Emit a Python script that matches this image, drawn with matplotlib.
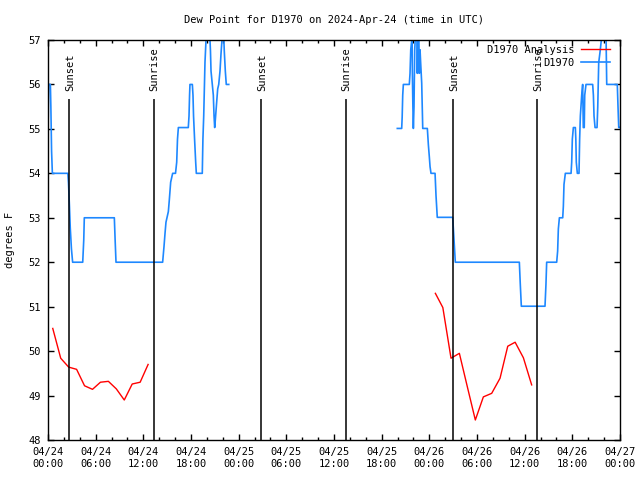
import numpy as np
import matplotlib
matplotlib.use("Agg")
import matplotlib.pyplot as plt
from matplotlib.ticker import MultipleLocator

plt.rcParams['font.family'] = ['DejaVu Sans Mono']

# ---- data (hours since 2024-04-24 00:00 UTC) ----
obs1_hours = [0.00, 0.03, 0.08, 0.30, 0.36, 0.45, 0.55, 2.50, 2.58, 2.70, 2.80, 2.95, 3.10,
              4.37, 4.50, 4.57, 8.35, 8.45, 8.56, 14.43, 14.60, 14.73, 14.85, 15.15, 15.27,
              15.44, 15.69, 16.05, 16.20, 16.30, 16.41, 17.66, 17.75, 17.82, 17.87, 18.17,
              18.25, 18.32, 18.45, 18.59, 18.67, 19.42, 19.50, 19.60, 19.76, 19.89, 20.15,
              20.39, 20.45, 20.52, 20.81, 20.90, 20.98, 21.04, 21.10, 21.23, 21.36, 21.49,
              21.65, 21.78, 21.90, 22.05, 22.19, 22.32, 22.44, 22.75]
obs1_dewpt = [55.03, 55.29, 56.00, 56.00, 55.50, 54.50, 54.00, 54.00, 53.78, 53.26, 52.78, 52.30, 52.00,
              52.00, 52.50, 53.00, 53.00, 52.50, 52.00, 52.00, 52.35, 52.65, 52.90, 53.14, 53.40,
              53.80, 54.00, 54.00, 54.25, 54.77, 55.03, 55.03, 55.29, 55.76, 56.00, 56.00,
              55.76, 55.29, 54.77, 54.25, 54.00, 54.00, 54.77, 55.29, 56.50, 57.00, 57.50,
              57.00, 56.75, 56.30, 55.76, 55.29, 55.03, 55.15, 55.29, 55.60, 55.90, 56.00,
              56.30, 56.70, 57.00, 57.40, 56.75, 56.30, 56.00, 56.00]

obs2_hours = [43.97, 44.52, 44.58, 44.65, 44.73, 45.48, 45.57, 45.66, 45.79, 45.83, 45.86, 45.93,
              45.99, 46.07, 46.16, 46.33, 46.42, 46.49, 46.58, 46.66, 46.74, 46.83, 46.91, 47.04,
              47.17, 47.75, 47.88, 48.00, 48.09, 48.21, 48.72, 48.84, 49.00, 50.94, 51.11, 51.27,
              59.33, 59.45, 59.58, 62.56, 62.68, 62.77, 64.03, 64.15, 64.24, 64.37, 64.79, 64.87,
              64.95, 65.12, 65.84, 65.92, 66.00, 66.13, 66.38, 66.44, 66.50, 66.63, 66.84, 66.92,
              67.01, 67.18, 67.30, 67.38, 67.50, 67.56, 67.72, 68.56, 68.65, 68.73, 68.86, 69.11,
              69.20, 69.32, 69.50, 69.65, 69.95, 70.25, 70.33, 71.66, 71.75, 71.84, 71.92]
obs2_dewpt = [55.01, 55.01, 55.26, 55.76, 56.00, 56.00, 56.25, 56.78, 57.00, 57.30, 56.30, 55.50,
              55.01, 55.50, 56.78, 57.40, 57.40, 56.25, 57.40, 57.40, 56.25, 56.78, 56.48, 56.03,
              55.01, 55.01, 54.64, 54.37, 54.15, 54.00, 54.00, 53.50, 53.01, 53.01, 52.50, 52.00,
              52.00, 51.50, 51.01, 51.01, 51.50, 52.00, 52.00, 52.25, 52.75, 53.00, 53.00, 53.26,
              53.75, 54.00, 54.00, 54.25, 54.77, 55.03, 55.03, 54.77, 54.25, 54.00, 54.00, 54.77,
              55.29, 55.76, 56.00, 55.03, 55.03, 55.76, 56.00, 56.00, 55.76, 55.29, 55.03, 55.03,
              55.50, 56.49, 56.75, 57.00, 57.40, 57.00, 56.00, 56.00, 55.50, 55.03, 55.03]

anl1_hours = [0.6, 1.6, 2.6, 3.6, 4.6, 5.6, 6.6, 7.6, 8.6, 9.6, 10.6, 11.6, 12.6]
anl1_dewpt = [50.51, 49.84, 49.64, 49.59, 49.22, 49.14, 49.30, 49.32, 49.15, 48.90, 49.26, 49.30, 49.70]

anl2_hours = [48.76, 49.70, 50.73, 51.78, 52.78, 53.79, 54.80, 55.85, 56.90, 57.87, 58.80, 59.84, 60.88]
anl2_dewpt = [51.30, 50.98, 49.84, 49.95, 49.20, 48.45, 48.97, 49.05, 49.39, 50.11, 50.20, 49.85, 49.24]

sun_hours = [2.64, 13.28, 26.87, 37.50, 50.98, 61.55]
sun_labels = ["Sunset", "Sunrise", "Sunset", "Sunrise", "Sunset", "Sunrise"]

xtick_hours = [0, 6, 12, 18, 24, 30, 36, 42, 48, 54, 60, 66, 72]
xtick_labels = ["04/24\n00:00", "04/24\n06:00", "04/24\n12:00", "04/24\n18:00",
                "04/25\n00:00", "04/25\n06:00", "04/25\n12:00", "04/25\n18:00",
                "04/26\n00:00", "04/26\n06:00", "04/26\n12:00", "04/26\n18:00",
                "04/27\n00:00"]

# ---- figure ----
fig = plt.figure(figsize=(6.4, 4.8), dpi=100)
ax = fig.add_axes([48/640, 40/480, 572/640, 400/480])

red = '#ff0000'
blue = '#1e88ff'
fs = 7.5

ax.plot(anl1_hours, anl1_dewpt, color=red, lw=1.0, label='D1970 Analysis')
ax.plot(anl2_hours, anl2_dewpt, color=red, lw=1.0)
ax.plot(obs1_hours, obs1_dewpt, color=blue, lw=1.2, label='D1970')
ax.plot(obs2_hours, obs2_dewpt, color=blue, lw=1.2)

ax.vlines(sun_hours, 48, 55.68, color='black', lw=1.1)
for h, lab in zip(sun_hours, sun_labels):
    ax.text(h + 0.1, 55.85, lab, rotation=90, ha='center', va='bottom', fontsize=fs)

ax.set_xlim(0, 72)
ax.set_ylim(48, 57)
ax.set_xticks(xtick_hours)
ax.set_xticklabels(xtick_labels, fontsize=fs)
ax.xaxis.set_minor_locator(MultipleLocator(2))
ax.yaxis.set_major_locator(MultipleLocator(1))
ax.tick_params(axis='both', which='major', direction='in', length=4, width=1,
               top=True, right=True, labelsize=fs, pad=5)
ax.tick_params(axis='both', which='minor', direction='in', length=2.2, width=1,
               top=True, right=True)
for s in ax.spines.values():
    s.set_linewidth(1.0)

ax.set_ylabel('degrees F', fontsize=fs, labelpad=10)
ax.set_title('Dew Point for D1970 on 2024-Apr-24 (time in UTC)', fontsize=fs, pad=12)

leg = ax.legend(loc='upper right', bbox_to_anchor=(0.9825, 0.9875), frameon=False,
                markerfirst=False, fontsize=fs, handlelength=2.8, handletextpad=0.6,
                labelspacing=0.25, borderpad=0, borderaxespad=0)
for t in leg.get_texts():
    t.set_ha('right')

fig.savefig('out.png', dpi=100)
